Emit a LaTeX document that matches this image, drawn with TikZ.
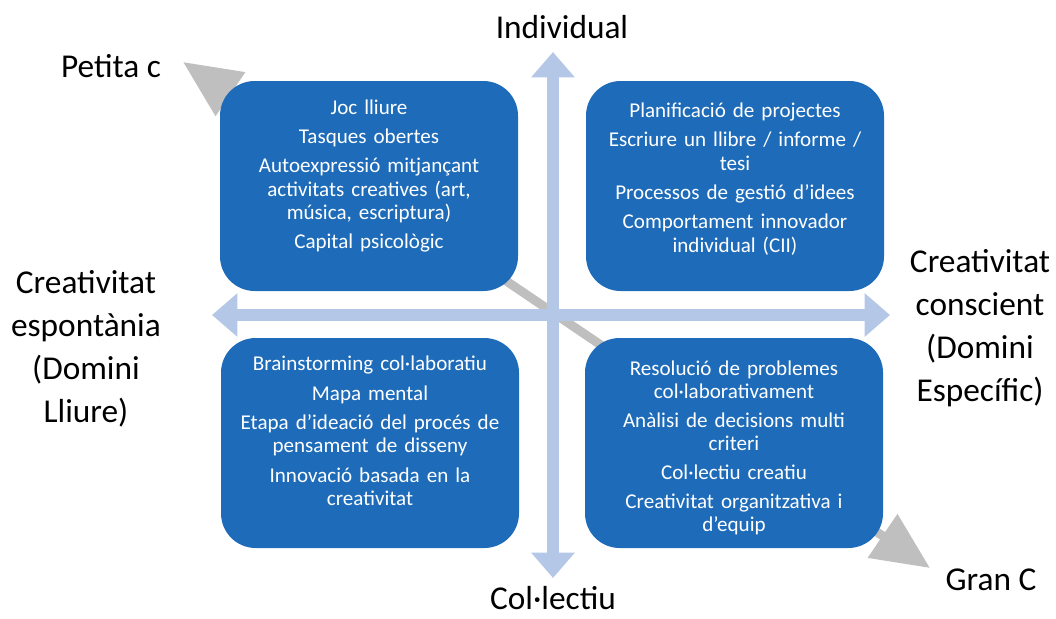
\documentclass[tikz,border=0pt]{standalone}
\usepackage{fontspec}
\setmainfont{Carlito}
\usetikzlibrary{arrows.meta}

\definecolor{quadblue}{RGB}{30,108,185}
\definecolor{axisblue}{RGB}{180,199,231}
\definecolor{scalegrey}{RGB}{191,191,191}

\tikzset{
  quad/.style={fill=quadblue,rounded corners=26pt,minimum width=223.5pt,minimum height=157.5pt},
  quadtext/.style={text=white,align=center,text width=215pt,font=\fontsize{15.8}{17.5}\selectfont},
  axis/.style={draw=axisblue,line width=9pt,{Triangle[length=19pt,width=31.5pt]}-{Triangle[length=19pt,width=31.5pt]}},
  cscale/.style={draw=scalegrey,line width=6.75pt,{Triangle[length=43pt,width=38pt]}-{Triangle[length=43pt,width=38pt]}},
  lbl/.style={align=center,font=\fontsize{25}{32.25}\selectfont}
}

\begin{document}
\begin{tikzpicture}[x=0.75pt,y=-0.75pt]
\useasboundingbox (0,0) rectangle (1056,618);

% Petita c - Gran C
\coordinate (small) at (183,62);
\coordinate (big) at (930,568);
\draw[cscale] (small) -- (big);

% Quadrants
\node[quad] (tl) at (369,186) {};
\node[quad] (tr) at (735,186) {};
\node[quad] (bl) at (370,443) {};
\node[quad] (br) at (734,443) {};

\node[quadtext] (tltext) at (369,176) {Joc lliure\\[4.5pt] Tasques obertes\\[4.5pt] Autoexpressió mitjançant\\ activitats creatives (art,\\ música, escriptura)\\[4.5pt] Capital psicològic};
\node[quadtext] (trtext) at (735,179) {Planificació de projectes\\[4.5pt] Escriure un llibre / informe /\\ tesi\\[4.5pt] Processos de gestió d’idees\\[4.5pt] Comportament innovador\\ individual (CII)};
\node[quadtext] (bltext) at (370,431) {Brainstorming col·laboratiu\\[4.5pt] Mapa mental\\[4.5pt] Etapa d’ideació del procés de\\ pensament de disseny\\[4.5pt] Innovació basada en la\\ creativitat};
\node[quadtext] (brtext) at (734,448) {Resolució de problemes\\ col·laborativament\\[4pt] Anàlisi de decisions multi\\ criteri\\[4pt] Col·lectiu creatiu\\[4pt] Creativitat organitzativa i\\ d’equip};

% Axes
\coordinate (top) at (553,52);
\coordinate (bottom) at (553,578);
\coordinate (left) at (212,315);
\coordinate (right) at (890,315);
\draw[axis] (bottom) -- (top);
\draw[axis] (left) -- (right);

% Labels
\node[lbl] (indiv) at (562,27) {Individual};
\node[lbl] (coll) at (553,598) {Col·lectiu};
\node[lbl] (spont) at (86,349) {Creativitat\\ espontània\\ (Domini\\ Lliure)};
\node[lbl] (consc) at (980,328) {Creativitat\\ conscient\\ (Domini\\ Específic)};
\node[lbl] (petita) at (111,66) {Petita c};
\node[lbl] (gran) at (991,580) {Gran C};

\end{tikzpicture}
\end{document}
